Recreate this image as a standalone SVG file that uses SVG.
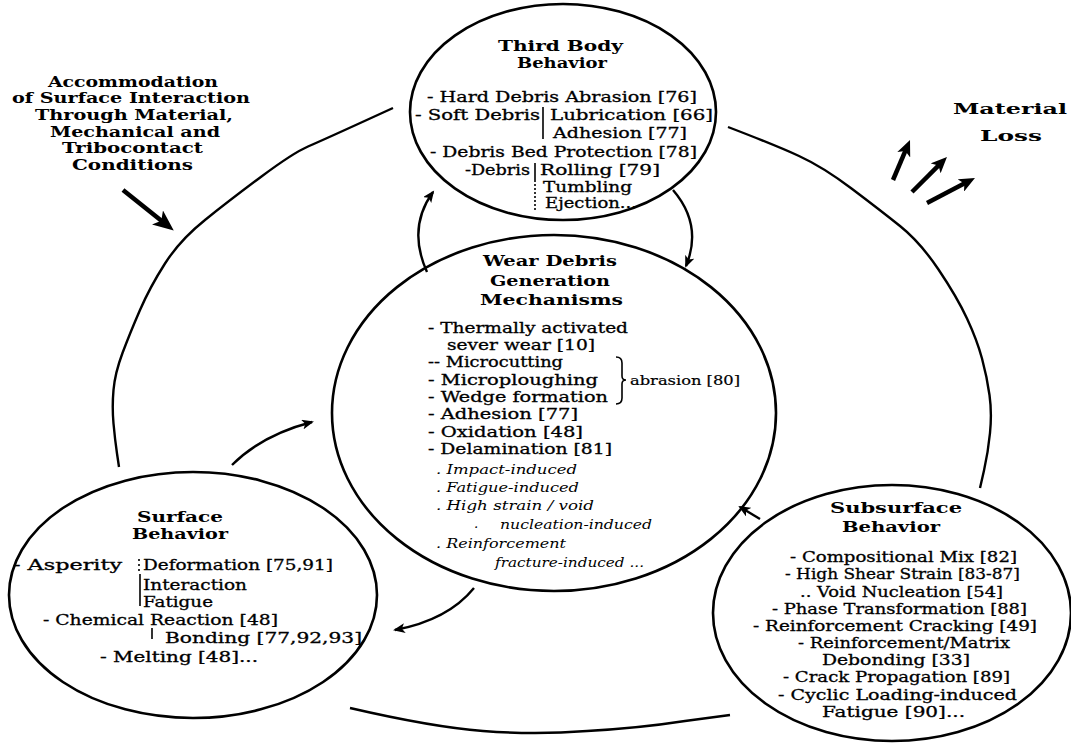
<svg xmlns="http://www.w3.org/2000/svg" width="1071" height="743" viewBox="0 0 1071 743">
<style>
text{font-family:"DejaVu Serif","Liberation Serif",serif;fill:#000;}
.h{font-weight:bold;font-size:15.5px;}
.hs{font-weight:bold;font-size:14px;}
.a{font-weight:bold;font-size:14.5px;}
.l{font-size:14.5px;stroke:#000;stroke-width:0.3;}
.it{font-size:13.5px;font-style:italic;}
.sm{font-size:12.5px;stroke:#000;stroke-width:0.2;}
.e{fill:none;stroke:#000;stroke-width:2.6;}
.c{fill:none;stroke:#000;stroke-width:2.4;}
.bar{fill:none;stroke:#000;stroke-width:1.6;}
.thick{fill:none;stroke:#000;stroke-width:4.5;}
</style>
<defs>
<marker id="ah" markerUnits="userSpaceOnUse" markerWidth="13" markerHeight="10" refX="10" refY="5" orient="auto">
<path d="M0,0 L12,5 L0,10 L3,5 z" fill="#000"/>
</marker>
<marker id="big" markerUnits="userSpaceOnUse" markerWidth="22" markerHeight="18" refX="8" refY="9" orient="auto">
<path d="M0,0 L21,9 L0,18 L5,9 z" fill="#000"/>
</marker>
<marker id="mid" markerUnits="userSpaceOnUse" markerWidth="17" markerHeight="14" refX="6" refY="7" orient="auto">
<path d="M0,0 L16,7 L0,14 L4,7 z" fill="#000"/>
</marker>
</defs>
<rect width="1071" height="743" fill="#fff"/>

<g id="connectors">
<path class="c" d="M393,108 L358,124 Q323,140 308,146.5 Q293,153 261.5,176.5 Q230,200 205,220 Q180,240 165,263.5 Q150,287 140,310 Q130,333 122.5,353 Q115,373 113.5,390 Q112,407 113.5,423.5 Q115,440 117,453.5 L119,467"/>
<path class="c" d="M728,127 Q775,145 799,156 Q823,167 851.5,188.5 Q880,210 900,226 Q920,242 938.5,269.5 Q957,297 967,318.5 Q977,340 982,358.5 Q987,377 989.5,395 Q992,413 990,433 Q988,453 984,470.5 L980,488"/>
<path class="c" d="M350,708 Q432,727 483,731 Q535,735 587,731 Q640,728 685,721 L730,715"/>
<path class="c" marker-end="url(#ah)" d="M673,190 Q703,225 686,266"/>
<path class="c" marker-end="url(#ah)" d="M427,272 Q407,228 433,192"/>
<path class="c" marker-end="url(#ah)" d="M232,465 Q262,435 312,422"/>
<path class="c" marker-end="url(#ah)" d="M474,588 Q448,620 395,630"/>
<path class="c" marker-end="url(#ah)" d="M760,519 L740,507"/>
<path class="thick" stroke-width="5" marker-end="url(#big)" d="M123,190 L163.6,222.5"/>
<path class="thick" marker-end="url(#mid)" d="M893,180 L906.1,149.2"/>
<path class="thick" marker-end="url(#mid)" d="M912,192 L939.9,164.1"/>
<path class="thick" marker-end="url(#mid)" d="M927,203 L966.1,182.6"/>
</g>

<g id="accommodation">
<text class="a" x="48" y="87" textLength="170" lengthAdjust="spacingAndGlyphs">Accommodation</text>
<text class="a" x="12" y="103" textLength="238" lengthAdjust="spacingAndGlyphs">of Surface Interaction</text>
<text class="a" x="35" y="120" textLength="198" lengthAdjust="spacingAndGlyphs">Through Material,</text>
<text class="a" x="50" y="137" textLength="170" lengthAdjust="spacingAndGlyphs">Mechanical and</text>
<text class="a" x="62" y="153" textLength="141" lengthAdjust="spacingAndGlyphs">Tribocontact</text>
<text class="a" x="72" y="170" textLength="121" lengthAdjust="spacingAndGlyphs">Conditions</text>
</g>

<g id="material-loss">
<text class="h" x="953" y="114" textLength="114" lengthAdjust="spacingAndGlyphs">Material</text>
<text class="h" x="980" y="141" textLength="62" lengthAdjust="spacingAndGlyphs">Loss</text>
</g>

<g id="third-body">
<ellipse class="e" cx="563" cy="112" rx="153" ry="108"/>
<text class="h" x="498" y="51" textLength="125" lengthAdjust="spacingAndGlyphs">Third Body</text>
<text class="h" x="517" y="68" textLength="90" lengthAdjust="spacingAndGlyphs">Behavior</text>
<text class="l" x="427" y="102" textLength="270" lengthAdjust="spacingAndGlyphs">- Hard Debris Abrasion [76]</text>
<text class="l" x="415" y="120" textLength="125" lengthAdjust="spacingAndGlyphs">- Soft Debris</text>
<line class="bar" x1="543" y1="107" x2="543" y2="139"/>
<text class="l" x="550" y="120" textLength="163" lengthAdjust="spacingAndGlyphs">Lubrication [66]</text>
<text class="l" x="553" y="138" textLength="134" lengthAdjust="spacingAndGlyphs">Adhesion [77]</text>
<text class="l" x="430" y="157" textLength="267" lengthAdjust="spacingAndGlyphs">- Debris Bed Protection [78]</text>
<text class="l" x="465" y="175" textLength="65" lengthAdjust="spacingAndGlyphs">-Debris</text>
<line class="bar" x1="535" y1="163" x2="535" y2="180"/>
<line class="bar" x1="535" y1="180" x2="535" y2="212" stroke-dasharray="2,2"/>
<text class="l" x="540" y="175" textLength="120" lengthAdjust="spacingAndGlyphs">Rolling  [79]</text>
<text class="l" x="543" y="192" textLength="89" lengthAdjust="spacingAndGlyphs">Tumbling</text>
<text class="l" x="545" y="208" textLength="92" lengthAdjust="spacingAndGlyphs">Ejection...</text>
</g>

<g id="wear-debris">
<ellipse class="e" cx="554" cy="413" rx="222" ry="178"/>
<text class="h" x="483" y="266" textLength="134" lengthAdjust="spacingAndGlyphs">Wear Debris</text>
<text class="h" x="490" y="286" textLength="120" lengthAdjust="spacingAndGlyphs">Generation</text>
<text class="h" x="480" y="305" textLength="143" lengthAdjust="spacingAndGlyphs">Mechanisms</text>
<text class="l" x="428" y="333" textLength="200" lengthAdjust="spacingAndGlyphs">- Thermally activated</text>
<text class="l" x="447" y="350" textLength="148" lengthAdjust="spacingAndGlyphs">sever wear [10]</text>
<text class="l" x="428" y="367" textLength="135" lengthAdjust="spacingAndGlyphs">-- Microcutting</text>
<text class="l" x="428" y="385" textLength="170" lengthAdjust="spacingAndGlyphs">- Microploughing</text>
<text class="l" x="428" y="402" textLength="180" lengthAdjust="spacingAndGlyphs">- Wedge formation</text>
<path class="bar" d="M616,357 Q622,357 622,363 L622,376 Q622,380 626,380 Q622,380 622,384 L622,398 Q622,404 616,404"/>
<text class="sm" x="630" y="385" textLength="110" lengthAdjust="spacingAndGlyphs">abrasion [80]</text>
<text class="l" x="428" y="419" textLength="150" lengthAdjust="spacingAndGlyphs">- Adhesion [77]</text>
<text class="l" x="428" y="437" textLength="155" lengthAdjust="spacingAndGlyphs">- Oxidation [48]</text>
<text class="l" x="428" y="454" textLength="184" lengthAdjust="spacingAndGlyphs">- Delamination [81]</text>
<text class="it" x="436" y="474" textLength="141" lengthAdjust="spacingAndGlyphs">. Impact-induced</text>
<text class="it" x="436" y="492" textLength="143" lengthAdjust="spacingAndGlyphs">. Fatigue-induced</text>
<text class="it" x="436" y="510" textLength="158" lengthAdjust="spacingAndGlyphs">. High strain / void</text>
<text class="it" x="474" y="528">.</text>
<text class="it" x="500" y="529" textLength="152" lengthAdjust="spacingAndGlyphs">nucleation-induced</text>
<text class="it" x="436" y="548" textLength="130" lengthAdjust="spacingAndGlyphs">. Reinforcement</text>
<text class="it" x="495" y="567" textLength="149" lengthAdjust="spacingAndGlyphs">fracture-induced ...</text>
</g>

<g id="surface">
<ellipse class="e" cx="193" cy="595" rx="184" ry="123"/>
<text class="hs" x="137" y="522" textLength="86" lengthAdjust="spacingAndGlyphs">Surface</text>
<text class="hs" x="132" y="539" textLength="96" lengthAdjust="spacingAndGlyphs">Behavior</text>
<text class="l" x="13" y="570" textLength="109" lengthAdjust="spacingAndGlyphs">- Asperity</text>
<line class="bar" x1="139" y1="559" x2="139" y2="572" stroke-dasharray="2,3"/>
<line class="bar" x1="140" y1="574" x2="140" y2="606"/>
<text class="l" x="143" y="570" textLength="190" lengthAdjust="spacingAndGlyphs">Deformation [75,91]</text>
<text class="l" x="143" y="590" textLength="104" lengthAdjust="spacingAndGlyphs">Interaction</text>
<text class="l" x="143" y="607" textLength="70" lengthAdjust="spacingAndGlyphs">Fatigue</text>
<text class="l" x="43" y="625" textLength="235" lengthAdjust="spacingAndGlyphs">- Chemical Reaction [48]</text>
<line class="bar" x1="152" y1="628" x2="152" y2="639"/>
<text class="l" x="165" y="643" textLength="197" lengthAdjust="spacingAndGlyphs">Bonding  [77,92,93]</text>
<text class="l" x="100" y="662" textLength="158" lengthAdjust="spacingAndGlyphs">- Melting [48]...</text>
</g>

<g id="subsurface">
<ellipse class="e" cx="892" cy="613" rx="179" ry="128"/>
<text class="h" x="830" y="513" textLength="132" lengthAdjust="spacingAndGlyphs">Subsurface</text>
<text class="h" x="842" y="532" textLength="98" lengthAdjust="spacingAndGlyphs">Behavior</text>
<text class="l" x="790" y="562" textLength="227" lengthAdjust="spacingAndGlyphs">- Compositional Mix [82]</text>
<text class="l" x="785" y="579" textLength="235" lengthAdjust="spacingAndGlyphs">- High Shear Strain [83-87]</text>
<text class="l" x="800" y="597" textLength="203" lengthAdjust="spacingAndGlyphs">.. Void Nucleation [54]</text>
<text class="l" x="772" y="614" textLength="255" lengthAdjust="spacingAndGlyphs">- Phase Transformation [88]</text>
<text class="l" x="753" y="631" textLength="284" lengthAdjust="spacingAndGlyphs">- Reinforcement Cracking [49]</text>
<text class="l" x="798" y="648" textLength="212" lengthAdjust="spacingAndGlyphs">- Reinforcement/Matrix</text>
<text class="l" x="822" y="665" textLength="148" lengthAdjust="spacingAndGlyphs">Debonding [33]</text>
<text class="l" x="783" y="682" textLength="227" lengthAdjust="spacingAndGlyphs">- Crack Propagation [89]</text>
<text class="l" x="778" y="700" textLength="239" lengthAdjust="spacingAndGlyphs">- Cyclic Loading-induced</text>
<text class="l" x="822" y="717" textLength="143" lengthAdjust="spacingAndGlyphs">Fatigue [90]...</text>
</g>
</svg>
